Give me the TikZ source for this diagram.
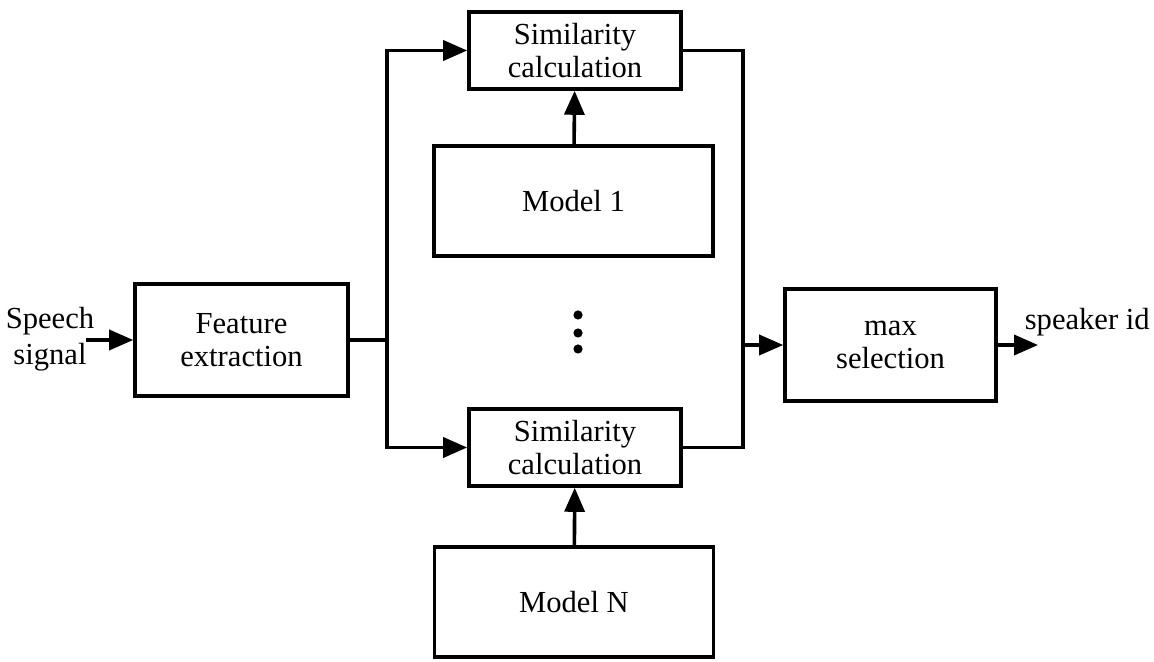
\documentclass[tikz,border=0pt]{standalone}
\usepackage{fontspec}
\setmainfont{Liberation Serif}
\usepackage{tikz}
\usetikzlibrary{
	arrows.meta,positioning
}
\tikzset{
	blk/.style={draw,line width=1.8pt,inner sep=0pt,align=center,
		font=\fontsize{15.3}{16.2}\selectfont},
	lbl/.style={inner sep=0pt,align=center,font=\fontsize{15.3}{16.2}\selectfont},
}

\begin{document}
\begin{tikzpicture}[x=50pt,y=50pt,line width=1.8pt,>={Triangle[length=12pt,width=10pt]}]
	\useasboundingbox (0,0) rectangle (11.54,6.62);
	\node[blk,minimum width=106.5pt,minimum height=56pt] (feat) at (2.415,3.22) {Feature\\extraction};
	\node[blk,minimum width=106pt,minimum height=38.5pt] (sim1) at (5.75,6.115) {Similarity\\calculation};
	\node[blk,minimum width=139.5pt,minimum height=55pt] (mod1) at (5.735,4.61) {Model 1};
	\node[blk,minimum width=106pt,minimum height=38.5pt] (simN) at (5.75,2.145) {Similarity\\calculation};
	\node[blk,minimum width=139.5pt,minimum height=55pt] (modN) at (5.74,0.60) {Model N};
	\node[blk,minimum width=105.5pt,minimum height=56pt] (max) at (8.905,3.17) {max\\selection};
	\node[lbl] (in) at (0.50,3.23) {Speech\\[1.5pt]signal};
	\node[lbl,anchor=west] (spk) at (10.23,3.40) {speaker id};
	\coordinate (src) at (0.86,3.22);
	\coordinate (out) at (10.38,3.17);
	\coordinate (split) at (3.87,3.22);
	\coordinate (join) at (7.43,3.17);
	%
	\fill (5.78,3.47) circle (2.3pt) (5.78,3.29) circle (2.3pt) (5.78,3.13) circle (2.3pt);
	%
	\draw [->] (src) -- (feat);
	\draw (feat.east) -- (split);
	\draw [->] (split) |- (sim1.west);
	\draw [->] (split) |- (simN.west);
	\draw [->] (mod1) -- (sim1);
	\draw [->] (modN) -- (simN);
	\draw (sim1.east) -| (join);
	\draw (simN.east) -| (join);
	\draw [->] (join) -- (max);
	\draw [->] (max) -- (out);
\end{tikzpicture}
\end{document}
